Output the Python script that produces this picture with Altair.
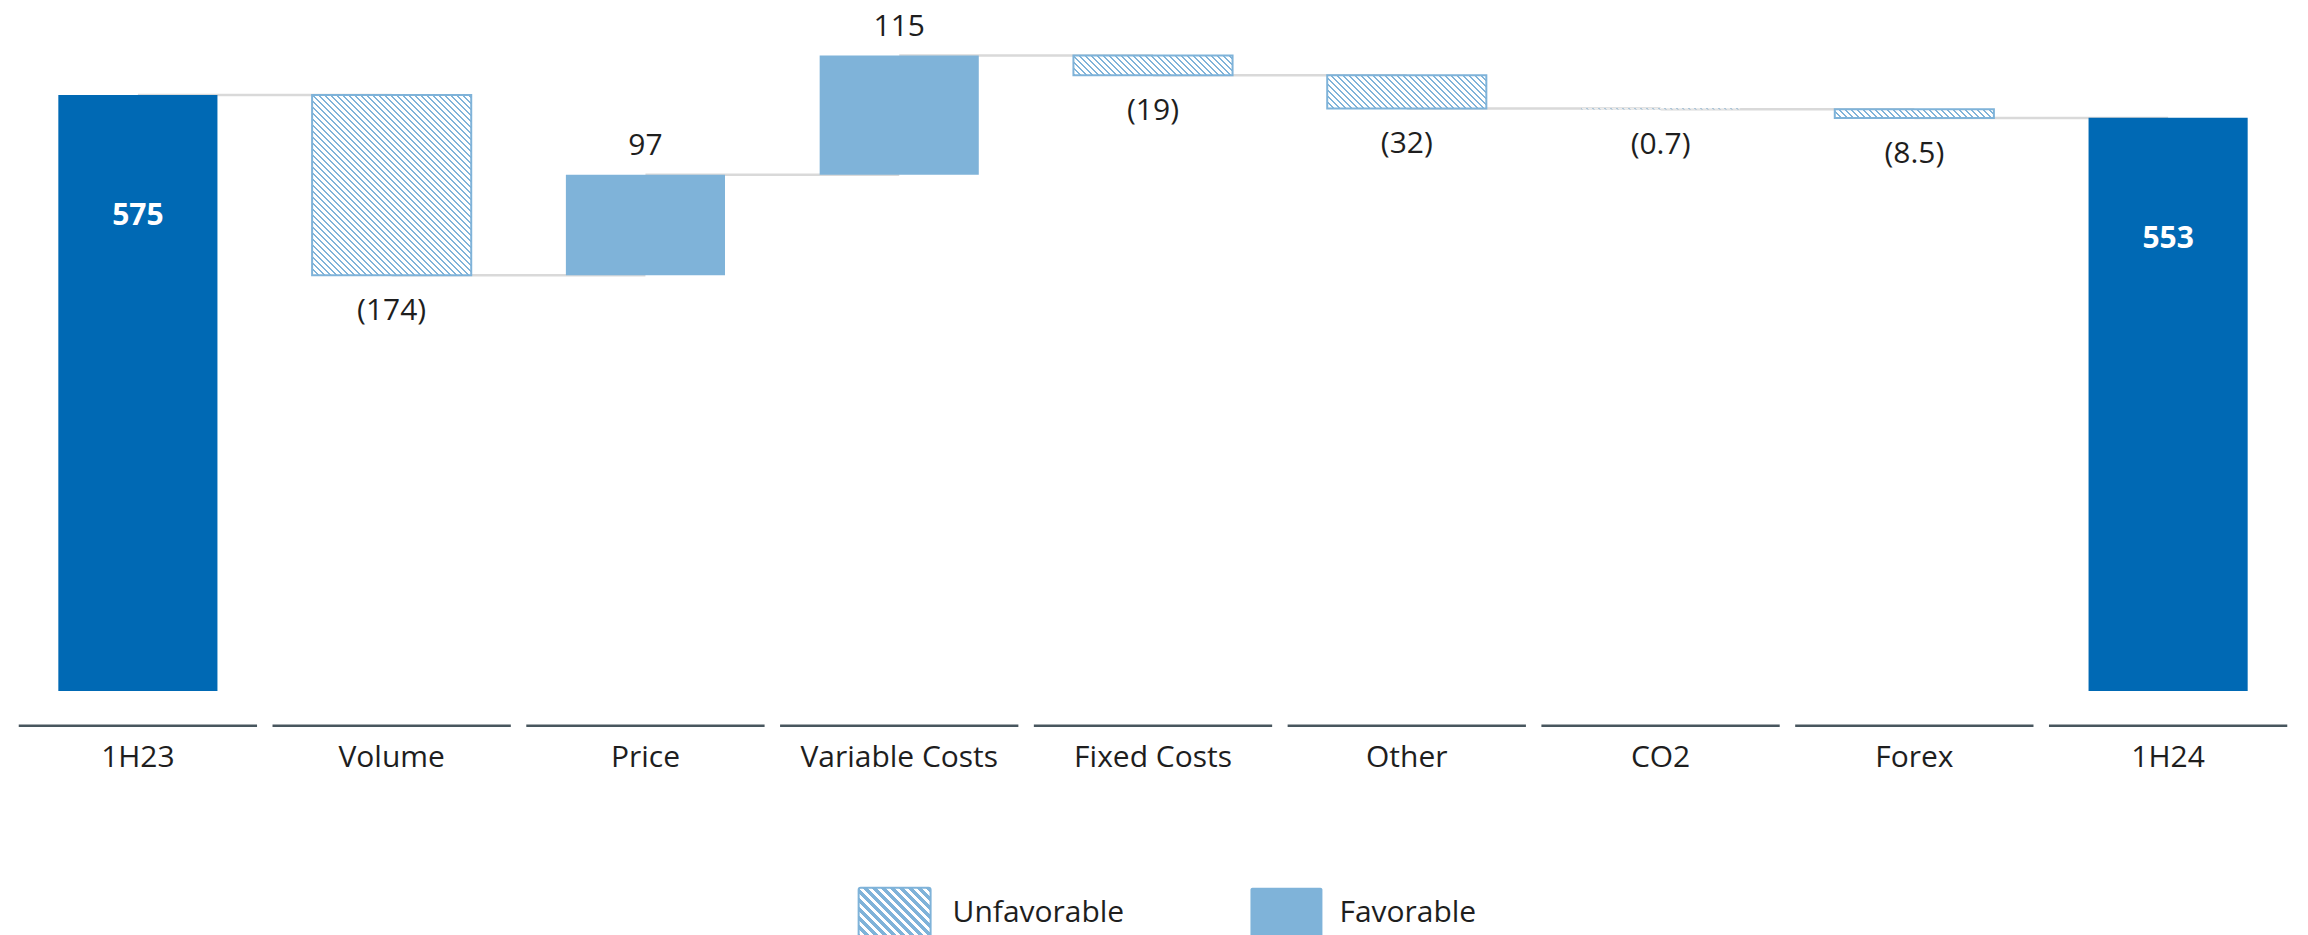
import altair as alt
import pandas as pd

# ---------------- data ----------------
categories = ["1H23", "Volume", "Price", "Variable Costs", "Fixed Costs",
              "Other", "CO2", "Forex", "1H24"]
values = [575, -174, 97, 115, -19, -32, -0.7, -8.5, 553]
is_total = [True, False, False, False, False, False, False, False, True]
legend_labels = ["Unfavorable", "Favorable"]

# ---------------- styling / layout ----------------
DARK = "#0069b4"
LIGHT = "#7fb3d9"
CONNECT = "#d9d9d9"
AXIS_LINE = "#48565e"
TEXT = "#1e1e1e"
FONT = "Open Sans"
FS = 30

W = 2285          # plot width
H = 674           # plot height
YMAX = 650
PX = H / YMAX     # pixels per unit
STEP = W / len(categories)
BAR_FRAC = 0.627
BAR_W = STEP * BAR_FRAC

# ---------------- derived table ----------------
rows = []
run = 0.0
for i, (c, v, t) in enumerate(zip(categories, values, is_total)):
    if t:
        start, end = 0.0, float(v)
        run = float(v)
    else:
        start = run
        end = run + v
        run = end
    kind = "total" if t else ("pos" if v > 0 else "neg")
    label = f"{v:g}" if v > 0 else f"({abs(v):g})"
    nxt = categories[i + 1] if i + 1 < len(categories) else None
    rows.append(dict(cat=c, start=start, end=end, kind=kind, label=label, nxt=nxt))
df = pd.DataFrame(rows)
conn = df[df["nxt"].notna()]


def hatch(w, h, period, frac, line_col, bg_col):
    """Diagonal '\\' stripes as a linear gradient over a w x h pixel box."""
    s = (w + h) / (w * w + h * h)
    n = (w + h) / period
    stops = []
    k = 0
    while k / n < 1:
        a = k / n
        b = min(1.0, (k + frac) / n)
        c = min(1.0, (k + 1) / n)
        stops += [
            {"offset": round(a, 6), "color": line_col},
            {"offset": round(b, 6), "color": line_col},
            {"offset": round(b, 6), "color": bg_col},
            {"offset": round(c, 6), "color": bg_col},
        ]
        k += 1
    return {"gradient": "linear", "x1": 0, "y1": 1,
            "x2": s * w, "y2": 1 - s * h, "stops": stops}


XS = alt.Scale(domain=categories, paddingInner=0, paddingOuter=0)
YS = alt.Scale(domain=[0, YMAX], nice=False, zero=True)
X = alt.X("cat:N", sort=categories, scale=XS,
          axis=alt.Axis(title=None, domain=False, ticks=False, labelAngle=0,
                        labelFont=FONT, labelFontSize=FS, labelColor=TEXT,
                        labelPadding=52, labelLimit=0))
Y = alt.Y("start:Q", scale=YS, axis=None)
YEND = alt.Y("end:Q", scale=YS, axis=None)

base = alt.Chart(df)

layers = []

# connectors
layers.append(
    alt.Chart(conn).mark_rule(color=CONNECT, strokeWidth=2.5).encode(
        x=X, x2=alt.X2("nxt:N"), y=YEND
    )
)

# axis segments under each category
layers.append(
    base.mark_bar(color=AXIS_LINE, width={"band": 0.939}).encode(
        x=X, y=alt.value(H + 33.5), y2=alt.value(H + 36)
    )
)

# total bars
layers.append(
    base.transform_filter(alt.datum.kind == "total")
    .mark_bar(color=DARK, width={"band": BAR_FRAC})
    .encode(x=X, y=Y, y2="end:Q")
)

# favorable bars
layers.append(
    base.transform_filter(alt.datum.kind == "pos")
    .mark_bar(color=LIGHT, width={"band": BAR_FRAC})
    .encode(x=X, y=Y, y2="end:Q")
)

# unfavorable (hatched) bars, one gradient per bar
for r in rows:
    if r["kind"] != "neg":
        continue
    h_px = abs(r["end"] - r["start"]) * PX
    grad = hatch(BAR_W, h_px, 6.0, 0.33, LIGHT, "#ffffff")
    mk = dict(fill=grad, width={"band": BAR_FRAC})
    if h_px >= 3:
        mk.update(stroke=LIGHT, strokeWidth=2)
    layers.append(
        base.transform_filter(alt.datum.cat == r["cat"])
        .mark_bar(**mk)
        .encode(x=X, y=Y, y2="end:Q")
    )

# value labels
layers.append(
    base.transform_filter(alt.datum.kind == "pos")
    .mark_text(font=FONT, fontSize=FS, color=TEXT, baseline="middle", dy=-29)
    .encode(x=X, y=YEND, text="label:N")
)
layers.append(
    base.transform_filter(alt.datum.kind == "neg")
    .mark_text(font=FONT, fontSize=FS, color=TEXT, baseline="middle", dy=36)
    .encode(x=X, y=YEND, text="label:N")
)
layers.append(
    base.transform_filter(alt.datum.kind == "total")
    .mark_text(font=FONT, fontSize=FS, fontWeight="bold", color="white",
               baseline="middle", dy=121.5)
    .encode(x=X, y=YEND, text="label:N")
)

# legend (manual)
leg = alt.Chart(pd.DataFrame({"label": legend_labels}))
SW_W, SW_H = 72, 50
LEG_Y = 871  # swatch top relative to plot origin
layers.append(
    leg.transform_filter(alt.datum.label == legend_labels[0])
    .mark_rect(fill=hatch(SW_W, SW_H, 9.0, 0.5, LIGHT, "#ffffff"),
               stroke=LIGHT, strokeWidth=2, cornerRadius=2)
    .encode(x=alt.value(848), x2=alt.value(848 + SW_W),
            y=alt.value(LEG_Y), y2=alt.value(LEG_Y + SW_H))
)
layers.append(
    leg.transform_filter(alt.datum.label == legend_labels[1])
    .mark_rect(color=LIGHT, cornerRadius=2)
    .encode(x=alt.value(1240), x2=alt.value(1240 + SW_W),
            y=alt.value(LEG_Y), y2=alt.value(LEG_Y + SW_H))
)
layers.append(
    leg.transform_filter(alt.datum.label == legend_labels[0])
    .mark_text(font=FONT, fontSize=FS, color=TEXT, align="left", baseline="middle")
    .encode(x=alt.value(942), y=alt.value(896), text="label:N")
)
layers.append(
    leg.transform_filter(alt.datum.label == legend_labels[1])
    .mark_text(font=FONT, fontSize=FS, color=TEXT, align="left", baseline="middle")
    .encode(x=alt.value(1329), y=alt.value(896), text="label:N")
)

chart = (
    alt.layer(*layers)
    .properties(width=W, height=H, autosize="none",
                padding={"left": 3, "top": 9, "right": 5, "bottom": 260},
                background="white")
    .configure_view(stroke=None)
)

chart.save("out.html", embed_options={"renderer": "svg", "actions": False})
